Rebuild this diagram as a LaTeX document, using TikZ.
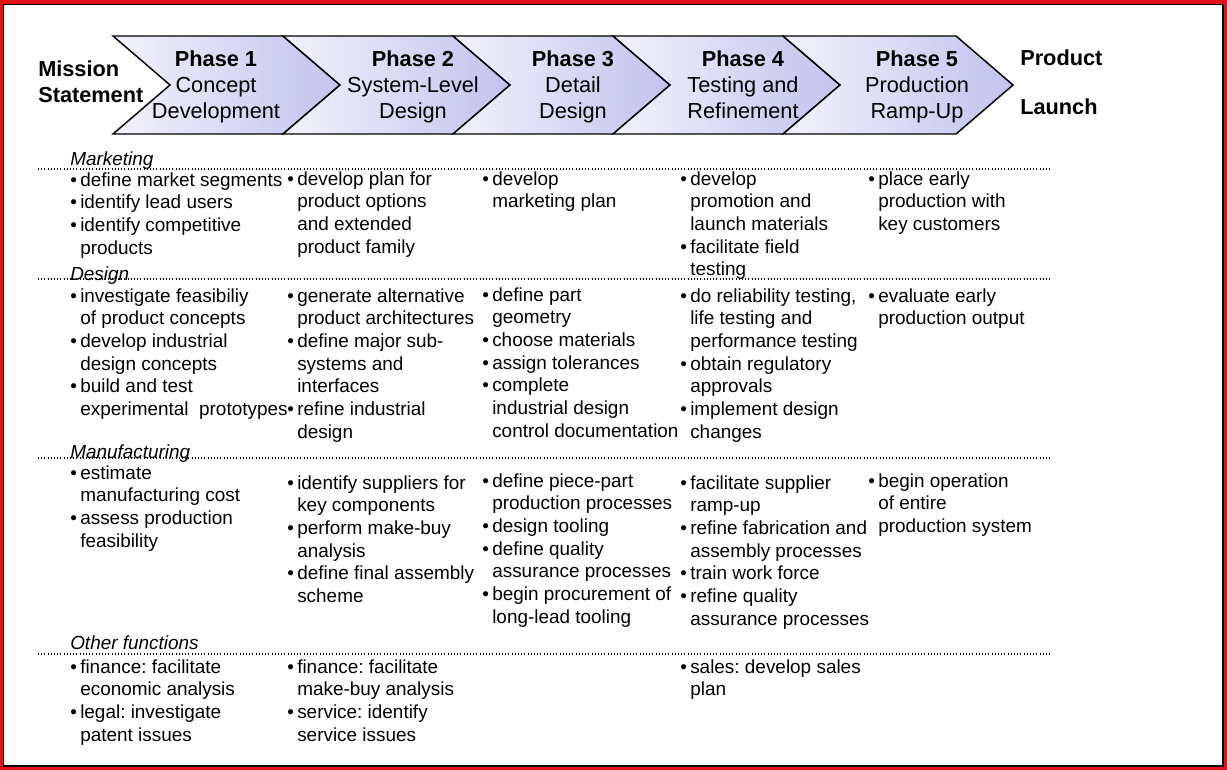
\documentclass[tikz,border=0pt]{standalone}
\usepackage{fontspec}
\setmainfont{Liberation Sans}
\usetikzlibrary{positioning}
\frenchspacing

\definecolor{framered}{RGB}{226,18,24}
\definecolor{phaseleft}{RGB}{242,242,252}
\definecolor{phaseright}{RGB}{194,194,238}

% bullet and hanging indent for the item lists
\newcommand{\bul}{\makebox[7.5pt][l]{\textbullet}}
\newcommand{\ind}{\hspace*{7.5pt}}

\tikzset{
  phase/.style={draw=black, line width=1.1pt, left color=phaseleft, right color=phaseright, line join=miter},
  phasetext/.style={align=center, font=\fontsize{16.3}{19.5}\selectfont, inner sep=0pt,
      anchor=north, yshift=13.65pt, execute at begin node=\strut},
  headtext/.style={align=left, font=\bfseries\fontsize{16.3}{19.5}\selectfont, inner sep=0pt,
      anchor=north west, yshift=13.65pt, execute at begin node=\strut},
  section/.style={font=\itshape\fontsize{14.2}{17}\selectfont, inner sep=0pt, anchor=base west},
  items/.style={align=left, font=\fontsize{14.2}{17}\selectfont, inner sep=0pt,
      anchor=north west, yshift=11.9pt, execute at begin node=\strut},
  divider/.style={line width=0.9pt, dash pattern=on 0.8pt off 1.6pt}
}

\begin{document}
\begin{tikzpicture}[x=0.75pt,y=-0.75pt]
        \useasboundingbox (0,0) rectangle (1227,770);
        % Frame
        \fill[framered] (0,0) rectangle (1227,770);
        \filldraw[fill=white, draw=black, line width=1.2pt] (3.5,4.5) rectangle (1223,766);

        % Phase arrows
        \foreach \a/\b in {113/283,283/453,453/613,613/783,783/956} {
            \draw[phase] (\a,36) -- (\b,36) -- ++(57,49) -- ++(-57,49)
                -- (\a,134) -- ++(57,-49) -- cycle;
        }
        \node[phasetext] (ph1) at (216,69) {\textbf{Phase 1}\\Concept\\Development};
        \node[phasetext] (ph2) at (413,69) {\textbf{Phase 2}\\System-Level\\Design};
        \node[phasetext] (ph3) at (573,69) {\textbf{Phase 3}\\Detail\\Design};
        \node[phasetext] (ph4) at (743,69) {\textbf{Phase 4}\\Testing and\\Refinement};
        \node[phasetext] (ph5) at (917,69) {\textbf{Phase 5}\\Production\\Ramp-Up};

        \node[headtext] (mission) at (38,79) {Mission\\Statement};
        \node[headtext] (product) at (1020,65) {Product};
        \node[headtext] (launch) at (1020,114) {Launch};

        % Dotted separators
        \foreach \y in {169,279,458,654} {
            \draw[divider] (38,\y) -- (1050,\y);
        }

        %% Marketing
        \node[section] (mkt) at (70,166) {Marketing};
        \node[items] (mkt1) at (70,188) {\bul define market segments\\\bul identify lead users\\\bul identify competitive\\\ind products};
        \node[items] (mkt2) at (287,187) {\bul develop plan for\\\ind product options\\\ind and extended\\\ind product family};
        \node[items] (mkt3) at (482,187) {\bul develop\\\ind marketing plan};
        \node[items] (mkt4) at (680,187) {\bul develop\\\ind promotion and\\\ind launch materials\\\bul facilitate field\\\ind testing};
        \node[items] (mkt5) at (868,187) {\bul place early\\\ind production with\\\ind key customers};

        %% Design
        \node[section] (des) at (70,280) {Design};
        \node[items] (des1) at (70,304) {\bul investigate feasibiliy\\\ind of product concepts\\\bul develop industrial\\\ind design concepts\\\bul build and test\\\ind experimental\ \ prototypes};
        \node[items] (des2) at (287,304) {\bul generate alternative\\\ind product architectures\\\bul define major sub-\\\ind systems and\\\ind interfaces\\\bul refine industrial\\\ind design};
        \node[items] (des3) at (482,303) {\bul define part\\\ind geometry\\\bul choose materials\\\bul assign tolerances\\\bul complete\\\ind industrial design\\\ind control documentation};
        \node[items] (des4) at (680,304) {\bul do reliability testing,\\\ind life testing and\\\ind performance testing\\\bul obtain regulatory\\\ind approvals\\\bul implement design\\\ind changes};
        \node[items] (des5) at (868,304) {\bul evaluate early\\\ind production output};

        %% Manufacturing
        \node[section] (man) at (70,458) {Manufacturing};
        \node[items] (man1) at (70,481) {\bul estimate\\\ind manufacturing cost\\\bul assess production\\\ind feasibility};
        \node[items] (man2) at (287,491) {\bul identify suppliers for\\\ind key components\\\bul perform make-buy\\\ind analysis\\\bul define final assembly\\\ind scheme};
        \node[items] (man3) at (482,489) {\bul define piece-part\\\ind production processes\\\bul design tooling\\\bul define quality\\\ind assurance processes\\\bul begin procurement of\\\ind long-lead tooling};
        \node[items] (man4) at (680,491) {\bul facilitate supplier\\\ind ramp-up\\\bul refine fabrication and\\\ind assembly processes\\\bul train work force\\\bul refine quality\\\ind assurance processes};
        \node[items] (man5) at (868,489) {\bul begin operation\\\ind of entire\\\ind production system};

        %% Other functions
        \node[section] (oth) at (70,649) {Other functions};
        \node[items] (oth1) at (70,675) {\bul finance: facilitate\\\ind economic analysis\\\bul legal: investigate\\\ind patent issues};
        \node[items] (oth2) at (287,675) {\bul finance: facilitate\\\ind make-buy analysis\\\bul service: identify\\\ind service issues};
        \node[items] (oth4) at (680,675) {\bul sales: develop sales\\\ind plan};
\end{tikzpicture}
\end{document}
